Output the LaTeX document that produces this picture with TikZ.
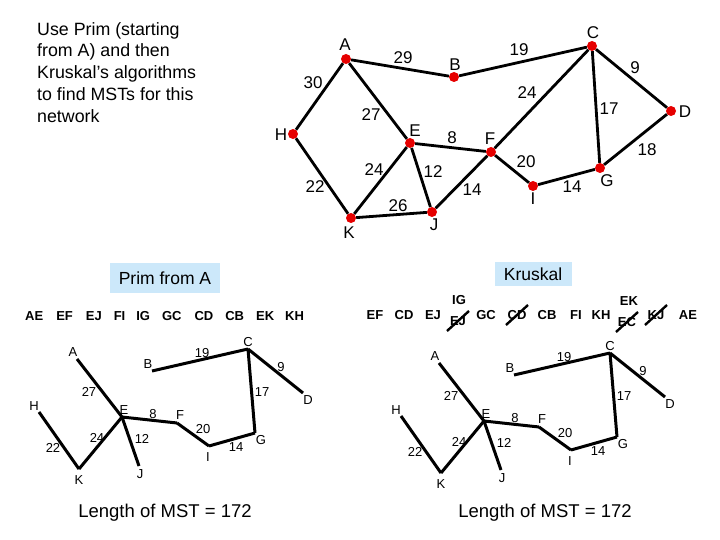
\documentclass[tikz,border=0pt]{standalone}
\usepackage{fontspec}
\setmainfont{Liberation Sans}
\definecolor{lblue}{RGB}{204,232,250}
\definecolor{vred}{RGB}{230,0,0}
\begin{document}
\begin{tikzpicture}[x=1pt,y=-1pt,
  edge/.style={line width=2.8pt},
  vtx/.style={circle,fill=vred,inner sep=0pt,minimum size=10pt},
  lab/.style={font=\fontsize{17}{17}\selectfont},
  wt/.style={font=\fontsize{17}{17}\selectfont},
  slab/.style={font=\fontsize{13}{13}\selectfont,inner sep=0pt},
  swt/.style={font=\fontsize{13}{13}\selectfont,inner sep=0pt},
  seq/.style={font=\fontsize{13}{13}\selectfont\bfseries,inner sep=0pt},
  mst/.style={line width=3pt},
  strike/.style={line width=2.4pt}]
\useasboundingbox (0,0) rectangle (720,540);
% intro
\node[anchor=north west,align=left,font=\fontsize{17.8}{21.8}\selectfont,inner sep=0pt] (intro) at (37,22)
 {Use Prim (starting\\from A) and then\\Kruskal's algorithms\\to find MSTs for this\\network};
% top graph
\foreach \n/\x/\y in {A/346/59,B/454/77,C/592/46,D/671/111,H/293/134,E/410/143,F/491/152,I/533/186,G/600/168,K/351/218,J/432/212}
  \node[vtx] (\n) at (\x,\y) {};
\foreach \a/\b in {A/B,B/C,A/H,A/E,C/F,C/G,C/D,D/G,E/F,F/I,I/G,H/K,E/K,E/J,F/J,K/J}
  \draw[edge] (\a) -- (\b);
\foreach \n/\x/\y/\t in {lA/345/45/A,lB/455/65/B,lC/593/33/C,lD/685/112/D,lH/281/135/H,lE/415/131/E,lF/490/139/F,lI/533/199/I,lG/607/181/G,lK/349/233/K,lJ/434/225/J}
  \node[lab] (\n) at (\x,\y) {\t};
\foreach \n/\x/\y/\t in {w1/403/58/29,w2/519/50/19,w3/313/83/30,w4/371/115/27,w5/527/93/24,w6/635/68/9,w7/609/109/17,w8/647/150/18,w9/452/138/8,w10/526/162/20,w11/374/170/24,w12/433/172/12,w13/472/190/14,w14/572/187/14,w15/315/187/22,w16/398/206/26}
  \node[wt] (\n) at (\x,\y) {\t};
% headings
\node[fill=lblue,minimum width=110pt,minimum height=30pt,font=\fontsize{17.5}{17.5}\selectfont] (prim) at (165,278) {Prim from A};
\node[fill=lblue,minimum width=77pt,minimum height=24pt,font=\fontsize{17.5}{17.5}\selectfont] (krus) at (533,274) {Kruskal};
\node[seq,anchor=west] (pseq) at (25,316) {AE\hspace{13pt}EF\hspace{13pt}EJ\hspace{12pt}FI\hspace{11pt}IG\hspace{12pt}GC\hspace{13pt}CD\hspace{12pt}CB\hspace{12pt}EK\hspace{11pt}KH};
\foreach \n/\x/\y/\t in {k1/375/315/EF,k2/404/315/CD,k3/433/315/EJ,k4/459/300/IG,k5/458/321/EJ,k6/486/315/GC,k7/517/315/CD,k8/547/315/CB,k9/576/315/FI,k10/601/315/KH,k11/629/301/EK,k12/627/322/EC,k13/656/315/KJ,k14/688/315/AE}
  \node[seq] (\n) at (\x,\y) {\t};
\foreach \n in {k5,k7,k12,k13}
  \draw[strike] ([shift={(-11,10)}]\n.center) -- ([shift={(11,-10)}]\n.center);
% MST trees
\foreach \s/\dx/\dy in {p/0/0,q/362/4}{
\begin{scope}[shift={(\dx,\dy)}]
\foreach \n/\x/\y in {A/77/359,B/152/371,C/248/349,D/303/393,H/39/412,E/122/417,F/177/423,I/209/446,G/255/433,K/79/469,J/139/466}
  \coordinate (\s\n) at (\x,\y);
\foreach \a/\b in {A/E,B/C,C/D,C/G,G/I,I/F,F/E,E/J,E/K,K/H}
  \draw[mst] (\s\a) -- (\s\b);
\foreach \n/\x/\y/\t in {A/73/352/A,B/148/364/B,C/248/342/C,D/308/400/D,H/34/406/H,E/124/410/E,F/180/415/F,I/208/457/I,G/261/440/G,K/79/480/K,J/140/474/J}
  \node[slab] (\s l\n) at (\x,\y) {\t};
\foreach \n/\x/\y/\t in {1/202/353/19,2/281/367/9,3/89/392/27,4/262/392/17,5/153/414/8,6/203/429/20,7/97/438/24,8/142/439/12,9/236/447/14,10/53/448/22}
  \node[swt] (\s w\n) at (\x,\y) {\t};
\end{scope}}
\node[font=\fontsize{18.5}{18.5}\selectfont] (len1) at (165,513) {Length of MST = 172};
\node[font=\fontsize{18.5}{18.5}\selectfont] (len2) at (545,513) {Length of MST = 172};
\end{tikzpicture}
\end{document}
